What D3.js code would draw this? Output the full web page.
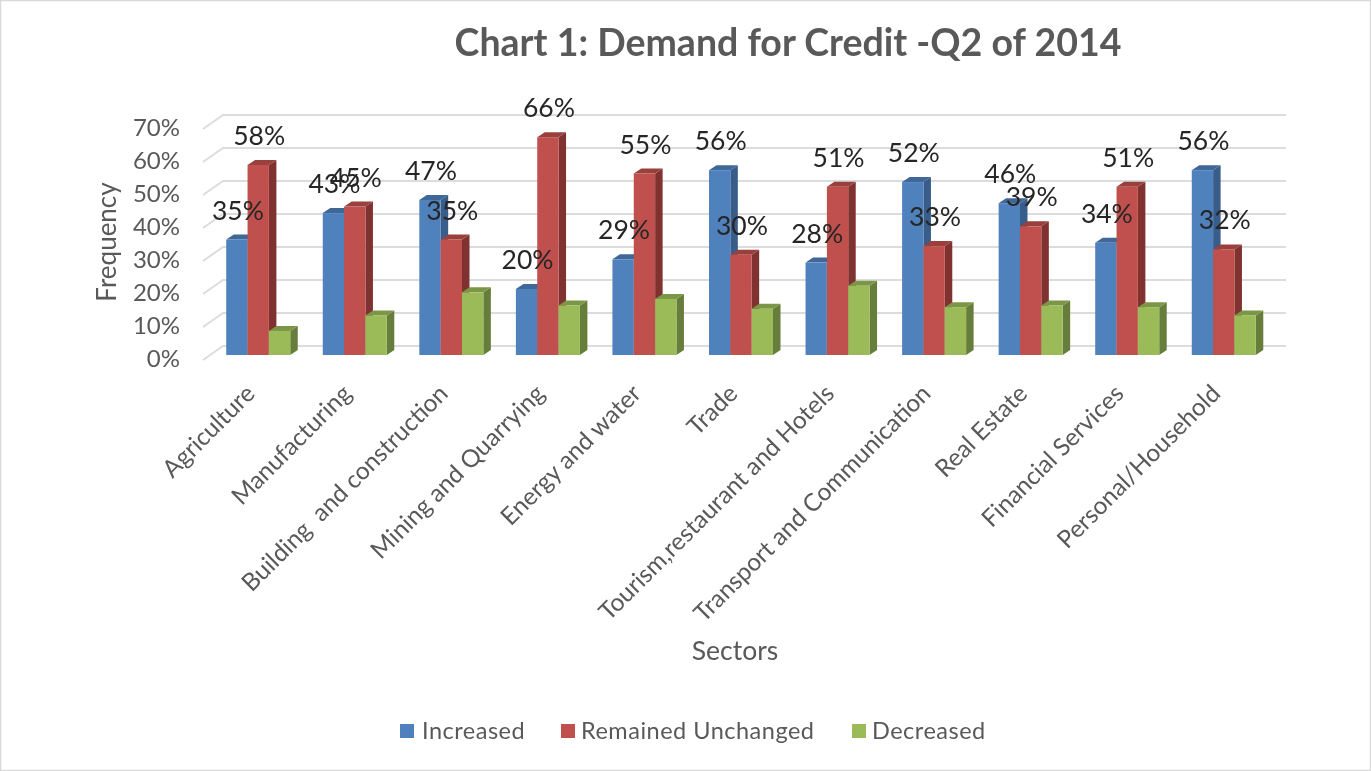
<!DOCTYPE html>
<html><head><meta charset="utf-8">
<script src="https://cdn.jsdelivr.net/npm/d3@7"></script>
<style>
html,body{margin:0;padding:0;background:#fff}
svg{display:block;font-family:Lato,"Open Sans",sans-serif;filter:blur(.45px)}
</style></head><body>
<svg id="c" width="1371" height="771"></svg>
<script>
const categories = ["Agriculture","Manufacturing","Building  and construction","Mining and Quarrying","Energy and water","Trade","Tourism,restaurant and Hotels","Transport and Communication","Real Estate","Financial Services","Personal/Household"];
const seriesNames = ["Increased","Remained Unchanged","Decreased"];
const increased = [35,43,47,20,29,56,28,52.4,46,34,56];
const remained = [57.6,45,35,66,55,30.4,51,33,39,51,32];
const decreased = [7.3,12,19,15,17,14,21,14.5,15,14.5,12];
const yTicks = [0,10,20,30,40,50,60,70];
const title = "Chart 1: Demand for Credit -Q2 of 2014";
const xTitle = "Sectors", yTitle = "Frequency";

const front = ["#4F81BD","#C0504D","#9BBB59"];
const side = ["#385D8A","#7F3230","#677D3B"];
const top_ = ["#3F6797","#99403D","#7C9647"];
const seriesValues = [increased,remained,decreased];

const svg = d3.select("#c");
svg.append("rect").attr("x",.5).attr("y",.5).attr("width",1370).attr("height",770)
  .attr("fill","#fff").attr("stroke","#D9D9D9").attr("stroke-width",1.5);

const y = d3.scaleLinear().domain([0,70]).range([355,124]);
const x0 = d3.scaleBand().domain(categories).range([210,1272]).paddingInner(.337).paddingOuter(.168);
const x1 = d3.scaleBand().domain(seriesNames).range([0,x0.bandwidth()]);
const wallLeft=203, wallBack=223, wallRight=1286, bd=7.5, bh=5;

// walls
const grid = svg.append("g").attr("fill","none").attr("stroke","#DCDCDC").attr("stroke-width",2);
grid.selectAll("path").data(yTicks).join("path")
  .attr("d",v=>`M${wallLeft},${y(v)+5}L${wallBack},${y(v)-9}L${wallRight},${y(v)-9}`);

// y axis
const ya = svg.append("g").attr("transform","translate(188,4)")
  .call(d3.axisLeft(y).tickValues(yTicks).tickSize(0).tickPadding(8).tickFormat(d=>d+"%"));
ya.select(".domain").remove();
ya.selectAll("text").attr("font-size",24).attr("fill","#595959").attr("font-family","Lato");

// x axis
const xa = svg.append("g").attr("transform","translate(0,383)")
  .call(d3.axisBottom(x0).tickSize(0).tickPadding(0));
xa.select(".domain").remove();
xa.selectAll("text").attr("font-size",24.4).attr("fill","#595959").attr("font-family","Lato")
  .attr("text-anchor","end").attr("dy","0.7em").attr("dx",0)
  .attr("transform","translate(-14,0) rotate(-45)").style("white-space","pre");

// bars
categories.forEach((c,i)=>{
  const g = svg.append("g").attr("transform",`translate(${x0(c)},0)`);
  seriesNames.forEach((s,k)=>{
    const v = seriesValues[k][i], l=x1(s), w=x1.bandwidth(), t=y(v), b=y(0);
    g.append("path").attr("fill",side[k]).attr("d",`M${l+w},${t}L${l+w+bd},${t-bh}L${l+w+bd},${b-bh}L${l+w},${b}Z`);
    g.append("path").attr("fill",top_[k]).attr("d",`M${l},${t}L${l+bd},${t-bh}L${l+w+bd},${t-bh}L${l+w},${t}Z`);
    g.append("rect").attr("x",l).attr("y",t).attr("width",w).attr("height",b-t).attr("fill",front[k]);
  });
});
// data labels above all bars
const fmt = d=>Math.round(d)+"%";
categories.forEach((c,i)=>{
  [0,1].forEach(k=>{
    const s=seriesNames[k], v=seriesValues[k][i];
    svg.append("text").text(fmt(v))
      .attr("x",x0(c)+x1(s)+x1.bandwidth()/2+1).attr("y",y(v)-20)
      .attr("text-anchor","middle").attr("font-size",26.5).attr("fill","#262626");
  });
});

svg.append("text").text(title).attr("x",788).attr("y",56).attr("text-anchor","middle")
  .attr("font-size",37.5).attr("font-weight",700).attr("fill","#595959");
svg.append("text").text(yTitle).attr("transform","translate(116,242) rotate(-90)")
  .attr("text-anchor","middle").attr("font-size",26).attr("fill","#595959");
svg.append("text").text(xTitle).attr("x",735).attr("y",660).attr("text-anchor","middle")
  .attr("font-size",26.5).attr("fill","#595959");

// legend
const legendX=[400,561,852];
const legendTextX=[422,581,872];
seriesNames.forEach((s,k)=>{
  svg.append("rect").attr("x",legendX[k]).attr("y",724).attr("width",14).attr("height",14).attr("fill",front[k]);
  svg.append("text").text(s).attr("x",legendTextX[k]).attr("y",739).attr("font-size",23.5)
    .attr("fill","#595959").attr("letter-spacing",.5);
});
</script>
</body></html>
